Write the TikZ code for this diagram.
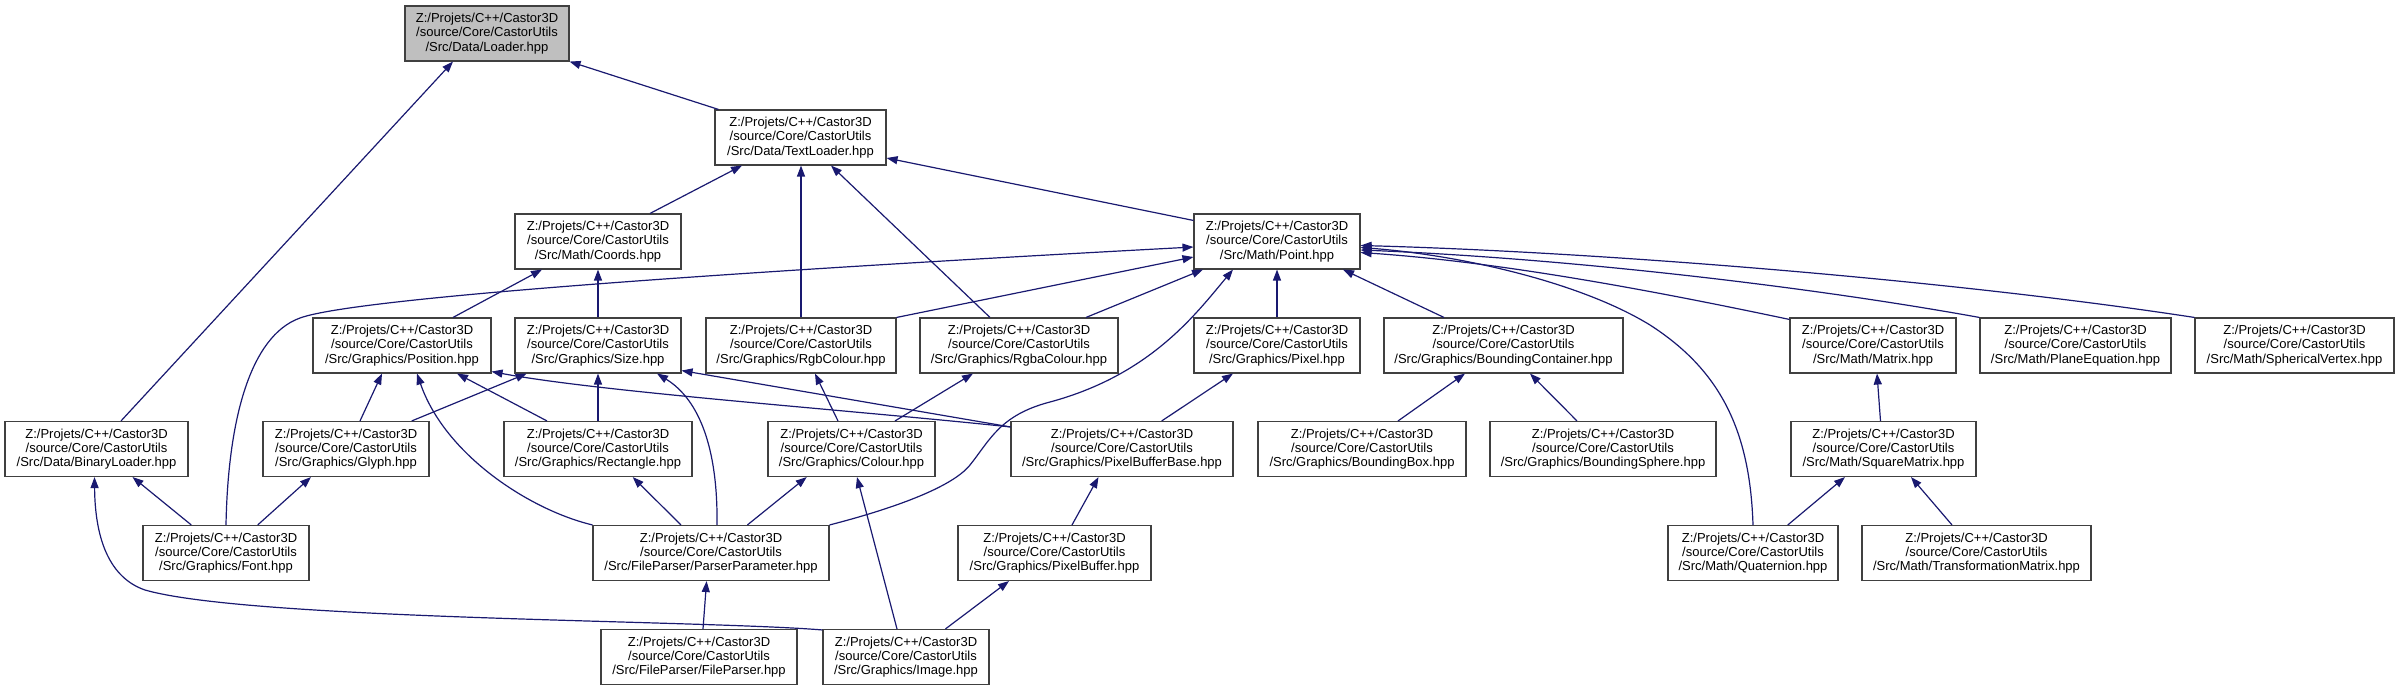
\documentclass[tikz,border=0pt]{standalone}
\usepackage{fontspec}
\setmainfont{Liberation Sans}
\usetikzlibrary{arrows.meta}
\definecolor{edgeblue}{HTML}{191970}
\definecolor{boxgray}{HTML}{BFBFBF}
\newcommand\pathlbl[1]{Z:/Projets/C++/Castor3D\\/source/Core/CastorUtils\\/Src/#1}
\begin{document}
\begin{tikzpicture}[x=1pt,y=-1pt,
  filebox/.style={draw=black!75, line width=1.1pt, fill=white, align=center,
    minimum height=55pt, inner sep=0pt, font=\fontsize{13}{14.3}\selectfont},
  edge/.style={draw=edgeblue, line width=1.2pt, -{Triangle[length=11pt,width=8pt]}}]
\useasboundingbox (0,0) rectangle (2402,691);
% row 0
\node[filebox, minimum width=164pt, fill=boxgray] (loader) at (487,33.5) {\pathlbl{Data/Loader.hpp}};
% row 1
\node[filebox, minimum width=171pt] (textloader) at (800.5,137.5) {\pathlbl{Data/TextLoader.hpp}};
% row 2
\node[filebox, minimum width=166pt] (coords) at (598,241.5) {\pathlbl{Math/Coords.hpp}};
\node[filebox, minimum width=166pt] (point) at (1277,241.5) {\pathlbl{Math/Point.hpp}};
% row 3
\node[filebox, minimum width=178pt] (position) at (402,345.5) {\pathlbl{Graphics/Position.hpp}};
\node[filebox, minimum width=166pt] (size) at (598,345.5) {\pathlbl{Graphics/Size.hpp}};
\node[filebox, minimum width=190pt] (rgb) at (801,345.5) {\pathlbl{Graphics/RgbColour.hpp}};
\node[filebox, minimum width=198pt] (rgba) at (1019,345.5) {\pathlbl{Graphics/RgbaColour.hpp}};
\node[filebox, minimum width=166pt] (pixel) at (1277,345.5) {\pathlbl{Graphics/Pixel.hpp}};
\node[filebox, minimum width=239pt] (bcont) at (1503.5,345.5) {\pathlbl{Graphics/BoundingContainer.hpp}};
\node[filebox, minimum width=166pt] (matrix) at (1873,345.5) {\pathlbl{Math/Matrix.hpp}};
\node[filebox, minimum width=191pt] (plane) at (2075.5,345.5) {\pathlbl{Math/PlaneEquation.hpp}};
\node[filebox, minimum width=199pt] (spherical) at (2294.5,345.5) {\pathlbl{Math/SphericalVertex.hpp}};
% row 4
\node[filebox, minimum width=183pt] (binary) at (96.5,449) {\pathlbl{Data/BinaryLoader.hpp}};
\node[filebox, minimum width=166pt] (glyph) at (346,449) {\pathlbl{Graphics/Glyph.hpp}};
\node[filebox, minimum width=188pt] (rect) at (598,449) {\pathlbl{Graphics/Rectangle.hpp}};
\node[filebox, minimum width=167pt] (colour) at (851.5,449) {\pathlbl{Graphics/Colour.hpp}};
\node[filebox, minimum width=222pt] (pbb) at (1122,449) {\pathlbl{Graphics/PixelBufferBase.hpp}};
\node[filebox, minimum width=208pt] (bbox) at (1362,449) {\pathlbl{Graphics/BoundingBox.hpp}};
\node[filebox, minimum width=226pt] (bsphere) at (1603,449) {\pathlbl{Graphics/BoundingSphere.hpp}};
\node[filebox, minimum width=185pt] (square) at (1883.5,449) {\pathlbl{Math/SquareMatrix.hpp}};
% row 5
\node[filebox, minimum width=166pt] (font) at (226,553) {\pathlbl{Graphics/Font.hpp}};
\node[filebox, minimum width=236pt] (pp) at (711,553) {\pathlbl{FileParser/ParserParameter.hpp}};
\node[filebox, minimum width=193pt] (pbuf) at (1054.5,553) {\pathlbl{Graphics/PixelBuffer.hpp}};
\node[filebox, minimum width=170pt] (quat) at (1753,553) {\pathlbl{Math/Quaternion.hpp}};
\node[filebox, minimum width=229pt] (transf) at (1976.5,553) {\pathlbl{Math/TransformationMatrix.hpp}};
% row 6
\node[filebox, minimum width=196pt] (fileparser) at (699,657) {\pathlbl{FileParser/FileParser.hpp}};
\node[filebox, minimum width=166pt] (image) at (906,657) {\pathlbl{Graphics/Image.hpp}};

% edges to Loader
\draw[edge] ([xshift=-82pt]textloader.north) -- (loader.south east);
\draw[edge] ([xshift=24.5pt]binary.north) -- ([xshift=-34pt]loader.south);
% edges to TextLoader
\draw[edge] ([xshift=52pt]coords.north) -- ([xshift=-58.5pt]textloader.south);
\draw[edge] (rgb.north) -- (rgb.north |- textloader.south);
\draw[edge] ([xshift=-29pt]rgba.north) -- ([xshift=30.5pt]textloader.south);
\draw[edge] ([yshift=-7pt]point.north west) -- ([yshift=-20.5pt]textloader.east);
% edges to Coords
\draw[edge] ([xshift=51pt]position.north) -- ([xshift=-56pt]coords.south);
\draw[edge] (size.north) -- (coords.south);
% edges to Point
\draw[edge] (font.north) .. controls (228,420) and (250,336) .. (300,318)
  .. controls (360,296) and (800,268) .. ([yshift=-5.5pt]point.west);
\draw[edge] (rgb.north east) -- ([yshift=-15.5pt]point.west);
\draw[edge] ([xshift=67pt]rgba.north) -- ([xshift=-74pt]point.south);
\draw[edge] (pp.north east) .. controls (880,512) and (950,490) .. (970,465)
  .. controls (990,440) and (1000,415) .. (1050,402)
  .. controls (1150,375) and (1195,315) .. ([xshift=-44pt]point.south);
\draw[edge] (pixel.north) -- (point.south);
\draw[edge] ([xshift=-59.5pt]bcont.north) -- ([xshift=66pt]point.south);
\draw[edge] (quat.north) .. controls (1750,430) and (1720,370) .. (1650,325)
  .. controls (1580,282) and (1460,255) .. ([yshift=-6pt]point.east);
\draw[edge] ([yshift=-2pt]matrix.north west) .. controls (1650,290) and (1500,262) .. ([yshift=-11pt]point.east);
\draw[edge] (plane.north west) .. controls (1800,285) and (1560,258) .. ([yshift=-8.5pt]point.east);
\draw[edge] (spherical.north west) .. controls (1950,280) and (1600,252) .. ([yshift=-4pt]point.east);
% edges to Position
\draw[edge] ([xshift=14pt]glyph.north) -- ([xshift=-20pt]position.south);
\draw[edge] (pp.north west) .. controls (530,510) and (445,455) .. ([xshift=15pt]position.south);
\draw[edge] ([xshift=-51pt]rect.north) -- ([xshift=55pt]position.south);
\draw[edge] ([yshift=-6pt]pbb.north west) .. controls (850,410) and (600,392) .. ([yshift=2pt]position.south east);
% edges to Size
\draw[edge] ([xshift=65.7pt]glyph.north) -- ([xshift=-71.3pt]size.south);
\draw[edge] (rect.north) -- (size.south);
\draw[edge] ([xshift=6pt]pp.north) .. controls (718,450) and (700,400) .. ([xshift=59pt]size.south);
\draw[edge] ([yshift=-6pt]pbb.north west) -- ([yshift=3pt]size.south east);
% edges to colours, pixel, bounding container, matrix
\draw[edge] ([xshift=-13.5pt]colour.north) -- ([xshift=14pt]rgb.south);
\draw[edge] ([xshift=43.5pt]colour.north) -- ([xshift=-46pt]rgba.south);
\draw[edge] ([xshift=39.7pt]pbb.north) -- ([xshift=-44pt]pixel.south);
\draw[edge] ([xshift=36pt]bbox.north) -- ([xshift=-38.5pt]bcont.south);
\draw[edge] ([xshift=-26pt]bsphere.north) -- ([xshift=26.5pt]bcont.south);
\draw[edge] ([xshift=-3pt]square.north) -- ([xshift=4pt]matrix.south);
% edges to row 4 nodes
\draw[edge] ([xshift=-34.7pt]font.north) -- ([xshift=36pt]binary.south);
\draw[edge] ([yshift=-1pt]image.north west) .. controls (700,620) and (250,620) .. (145,590)
  .. controls (110,578) and (95,540) .. ([xshift=-2pt]binary.south);
\draw[edge] ([xshift=31.7pt]font.north) -- ([xshift=-35pt]glyph.south);
\draw[edge] ([xshift=-30pt]pp.north) -- ([xshift=34.7pt]rect.south);
\draw[edge] ([xshift=36.4pt]pp.north) -- ([xshift=-44.8pt]colour.south);
\draw[edge] ([xshift=-9pt]image.north) -- ([xshift=5.5pt]colour.south);
\draw[edge] ([xshift=17.5pt]pbuf.north) -- ([xshift=-23.5pt]pbb.south);
\draw[edge] ([xshift=34.8pt]quat.north) -- ([xshift=-38.5pt]square.south);
\draw[edge] ([xshift=-24.5pt]transf.north) -- ([xshift=27.5pt]square.south);
% edges to row 5 nodes
\draw[edge] ([xshift=4pt]fileparser.north) -- ([xshift=-4.4pt]pp.south);
\draw[edge] ([xshift=39.4pt]image.north) -- ([xshift=-45.5pt]pbuf.south);
\end{tikzpicture}
\end{document}
